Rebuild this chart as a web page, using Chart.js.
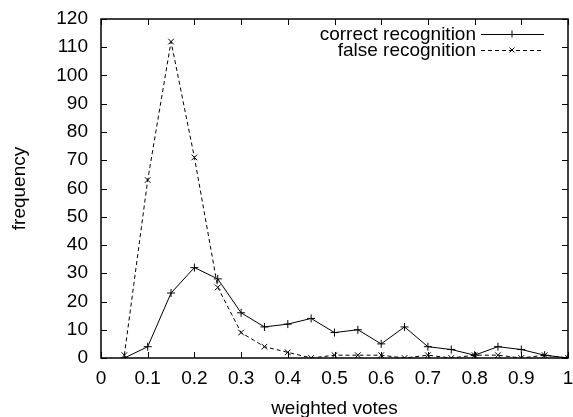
<!DOCTYPE html>
<html>
<head>
<meta charset="utf-8">
<script src="https://cdn.jsdelivr.net/npm/chart.js@4/dist/chart.umd.min.js"></script>
<style>
  html, body { margin: 0; padding: 0; background: #fff; }
  #wrap { width: 573px; height: 417px; }
</style>
</head>
<body>
<div id="wrap"><canvas id="chart" width="573" height="417"></canvas></div>
<script>
// weighted votes (x positions of the points)
const votes = [0.05, 0.1, 0.15, 0.2, 0.25, 0.3, 0.35, 0.4, 0.45, 0.5,
               0.55, 0.6, 0.65, 0.7, 0.75, 0.8, 0.85, 0.9, 0.95, 1.0];
const correctFreq = [0, 4, 23, 32, 28, 16, 11, 12, 14, 9,
                     10, 5, 11, 4, 3, 1, 4, 3, 1, 0];
const falseFreq = [1, 63, 112, 71, 25, 9, 4, 2, 0, 1,
                   1, 1, 0, 1, 0, 1, 1, 0, 1, 0];
const seriesNames = ['correct recognition', 'false recognition'];
const xLabel = 'weighted votes';
const yLabel = 'frequency';

const FONT = 'Liberation Sans, Arial, Helvetica, sans-serif';
const FS = 19;

function toPoints(ys) {
    return votes.map((v, i) => ({ x: v, y: ys[i] }));
}

// gnuplot style frame: border box + inward ticks on all sides
const frame = {
    id: 'frame',
    afterDatasetsDraw(chart) {
        const { ctx, chartArea: a, scales } = chart;
        ctx.save();
        ctx.strokeStyle = '#000';
        ctx.lineWidth = 1;
        ctx.beginPath();
        scales.x.ticks.forEach(t => {
            const px = Math.round(scales.x.getPixelForValue(t.value)) + 0.5;
            ctx.moveTo(px, a.bottom); ctx.lineTo(px, a.bottom - 6);
            ctx.moveTo(px, a.top); ctx.lineTo(px, a.top + 6);
        });
        scales.y.ticks.forEach(t => {
            const py = Math.round(scales.y.getPixelForValue(t.value)) + 0.5;
            ctx.moveTo(a.left, py); ctx.lineTo(a.left + 6, py);
            ctx.moveTo(a.right, py); ctx.lineTo(a.right - 6, py);
        });
        ctx.stroke();
        ctx.lineWidth = 1.5;
        ctx.strokeRect(a.left, a.top, a.right - a.left, a.bottom - a.top);
        ctx.restore();
    }
};

// legend in the top right, text right aligned with line samples
const keyBox = {
    id: 'keyBox',
    afterDraw(chart) {
        const { ctx } = chart;
        ctx.save();
        ctx.font = FS + 'px ' + FONT;
        ctx.textAlign = 'right';
        ctx.textBaseline = 'middle';
        chart.data.datasets.forEach((ds, i) => {
            const y = 34 + i * 16;
            ctx.fillStyle = '#000';
            ctx.fillText(ds.label, 476, y + 1);
            ctx.strokeStyle = '#000';
            ctx.lineWidth = 1;
            ctx.setLineDash(ds.borderDash || []);
            ctx.beginPath();
            ctx.moveTo(481, y + 0.5);
            ctx.lineTo(544, y + 0.5);
            ctx.stroke();
            ctx.setLineDash([]);
            const mx = 512, r = 3.5;
            ctx.beginPath();
            if (ds.pointStyle === 'cross') {
                ctx.moveTo(mx - r, y + 0.5); ctx.lineTo(mx + r, y + 0.5);
                ctx.moveTo(mx, y - r); ctx.lineTo(mx, y + r);
            } else {
                ctx.moveTo(mx - r * 0.7, y - r * 0.7); ctx.lineTo(mx + r * 0.7, y + r * 0.7);
                ctx.moveTo(mx - r * 0.7, y + r * 0.7); ctx.lineTo(mx + r * 0.7, y - r * 0.7);
            }
            ctx.stroke();
        });
        ctx.restore();
    }
};

new Chart(document.getElementById('chart'), {
    type: 'line',
    data: {
        datasets: [{
            label: seriesNames[0],
            data: toPoints(correctFreq),
            borderColor: '#000',
            borderWidth: 1,
            pointStyle: 'cross',
            pointRadius: 4,
            pointBorderColor: '#000',
            pointBorderWidth: 1,
            tension: 0
        }, {
            label: seriesNames[1],
            data: toPoints(falseFreq),
            borderColor: '#000',
            borderWidth: 1,
            borderDash: [4, 3],
            pointStyle: 'crossRot',
            pointRadius: 4,
            pointBorderColor: '#000',
            pointBorderWidth: 1,
            tension: 0
        }]
    },
    options: {
        responsive: false,
        animation: false,
        layout: { padding: { left: 0, top: 19, right: 3, bottom: 0 } },
        plugins: {
            legend: { display: false },
            tooltip: { enabled: false }
        },
        scales: {
            x: {
                type: 'linear',
                min: 0,
                max: 1,
                afterFit(scale) {
                    scale.height = 59;
                    scale.paddingLeft = 0;
                    scale.paddingRight = 0;
                },
                ticks: {
                    stepSize: 0.1,
                    color: '#000',
                    font: { family: FONT, size: FS },
                    padding: 9,
                    maxRotation: 0,
                    callback: v => +v.toFixed(1)
                },
                grid: { display: false, drawTicks: false },
                border: { display: false },
                title: {
                    display: true,
                    text: xLabel,
                    color: '#000',
                    font: { family: FONT, size: FS },
                    padding: { top: 0, bottom: -3 }
                }
            },
            y: {
                min: 0,
                max: 120,
                afterFit(scale) {
                    scale.width = 101;
                    scale.paddingTop = 0;
                    scale.paddingBottom = 0;
                },
                ticks: {
                    stepSize: 10,
                    color: '#000',
                    font: { family: FONT, size: FS },
                    padding: 13
                },
                grid: { display: false, drawTicks: false },
                border: { display: false },
                title: {
                    display: true,
                    text: yLabel,
                    color: '#000',
                    font: { family: FONT, size: FS },
                    padding: { top: 8, bottom: 0 }
                }
            }
        }
    },
    plugins: [frame, keyBox]
});
</script>
</body>
</html>
